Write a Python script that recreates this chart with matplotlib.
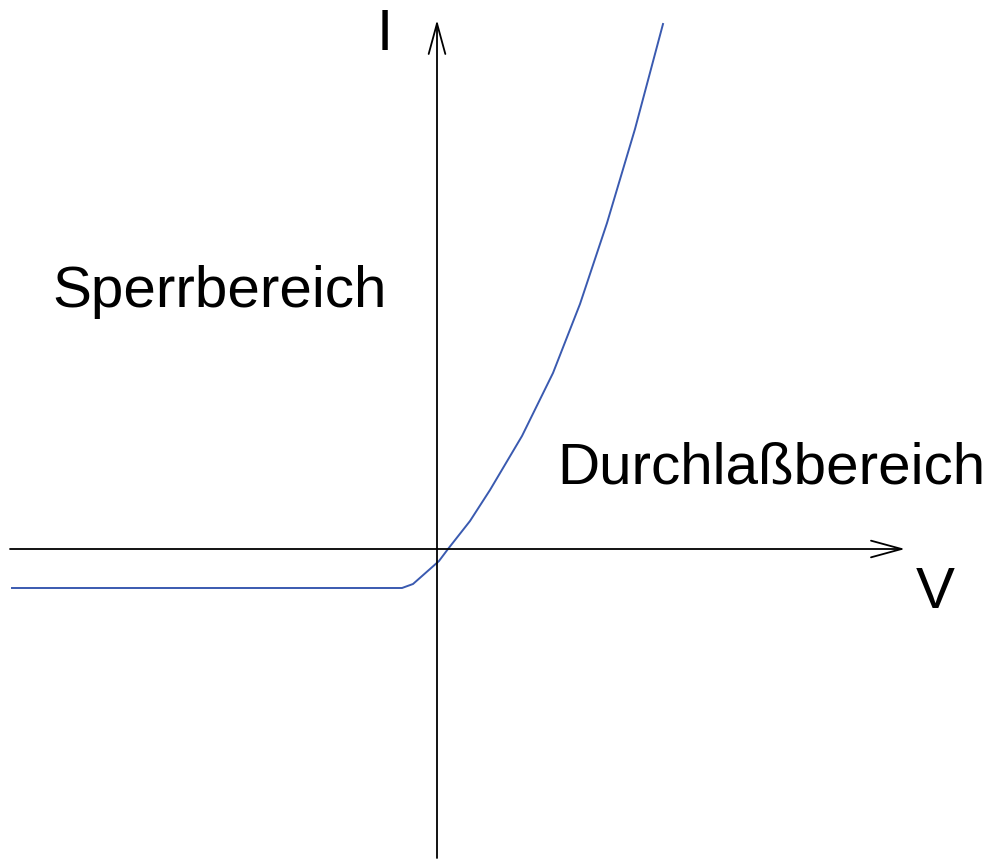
import matplotlib.pyplot as plt
import numpy as np

# diode characteristic, arbitrary units (origin at the axis crossing)
V = [-425, -35, -24, -7, 2, 11, 33, 53, 85, 116, 143, 170, 198, 226]
I = [-39, -39, -35, -20, -12, 0, 28, 59, 113, 176, 245, 326, 420, 525]

XLIM = (-437, 552)
YLIM = (-310, 549)

fig = plt.figure(figsize=(9.89, 8.59), dpi=100)
ax = fig.add_axes([0, 0, 1, 1])
ax.set_xlim(*XLIM)
ax.set_ylim(*YLIM)
ax.axis("off")

arrow = dict(arrowstyle="->,head_length=2.2,head_width=0.6", color="black", lw=1.3,
             shrinkA=0, shrinkB=0)
ax.annotate("", xy=(468, 0), xytext=(-427, 0), arrowprops=arrow)
ax.annotate("", xy=(0, 529), xytext=(0, -309), arrowprops=arrow)

ax.plot(V, I, color="#3a5ab0", lw=1.4, solid_joinstyle="round")

font = dict(family="Liberation Sans", fontsize=42, color="black")
ax.text(-52, 499, "I", ha="center", va="baseline", **font)
ax.text(498, -59, "V", ha="center", va="baseline", **font)
ax.text(-385, 242, "Sperrbereich", ha="left", va="baseline", **font)
ax.text(120, 66, "Durchlaßbereich", ha="left", va="baseline", **font)

fig.savefig("out.png", dpi=100)
